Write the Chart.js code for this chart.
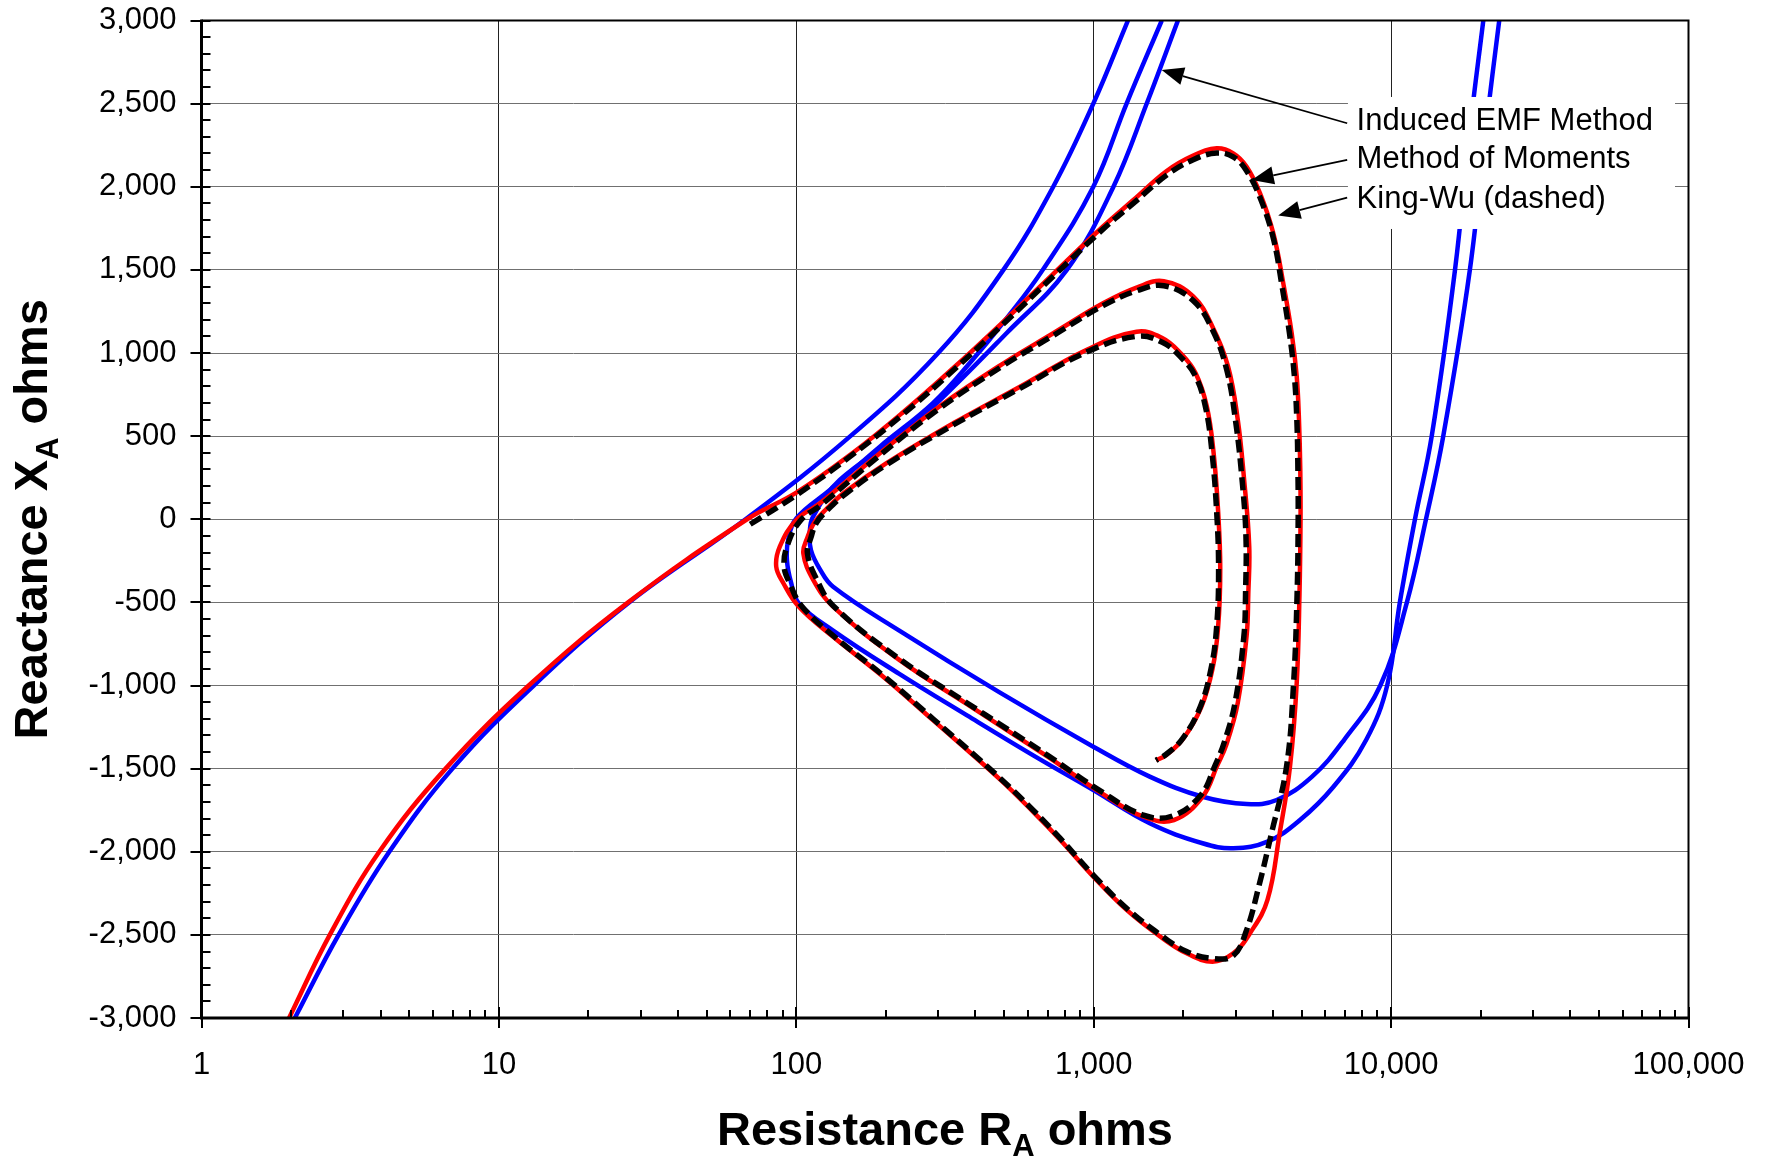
<!DOCTYPE html>
<html><head><meta charset="utf-8">
<script src="https://cdn.jsdelivr.net/npm/chart.js@4/dist/chart.umd.min.js"></script>
<style>html,body{margin:0;padding:0;background:#fff;}canvas{display:block;}</style>
</head><body>
<canvas id="c" width="1765" height="1156"></canvas>
<script>
// ---------- DATA (R ohms, X ohms) ----------
const xMin = 1, xMax = 100000;
const yMin = -3000, yMax = 3000, yStep = 500, yMinorStep = 100;

// Method of Moments (red, one continuous spiral)
const momPoints = [[1.97,-3000],[2.70,-2500],[3.96,-2000],[6.62,-1500],[12.6,-1000],[27.2,-500],[68.3,0],[100,160],[155,400],[228,642],[336,907],[495,1186],[730,1475],[1075,1761],[1359,1920],[1759,2095],[2161,2188],[2593,2231],[2946,2201],[3268,2121],[3625,1961],[4018,1720],[4340,1419],[4632,1119],[4815,860],[4900,600],[4950,300],[4960,0],[4920,-450],[4815,-987],[4571,-1488],[4220,-1889],[3840,-2290],[3354,-2490],[2946,-2611],[2508,-2661],[2053,-2611],[1676,-2511],[1290,-2350],[997,-2150],[772,-1929],[626,-1760],[481,-1560],[288,-1208],[196,-947],[133,-707],[102,-526],[90.5,-385],[85.6,-285],[88,-165],[100,-4],[120,96],[191,397],[302,677],[497,938],[731,1119],[1075,1299],[1400,1395],[1721,1432],[2161,1340],[2508,1158],[2831,918],[3052,597],[3200,250],[3334,-163],[3310,-450],[3268,-700],[3052,-1103],[2800,-1350],[2593,-1488],[2323,-1669],[1862,-1809],[1470,-1789],[1066,-1649],[700,-1428],[481,-1238],[375,-1112],[222,-846],[133,-526],[114,-365],[105.6,-205],[109,-110],[115,-20],[126,60],[145,160],[201,337],[337,577],[565,797],[944,1018],[1394,1128],[1700,1090],[1962,998],[2200,880],[2400,680],[2530,400],[2620,50],[2664,-300],[2620,-650],[2509,-900],[2300,-1130],[2000,-1320],[1750,-1420],[1620,-1450]];

// King-Wu (black dashed)
const kwPoints = [[70,-30],[100,145],[155,390],[228,630],[336,893],[495,1172],[730,1460],[1075,1745],[1359,1900],[1759,2070],[2161,2163],[2593,2203],[2946,2180],[3268,2095],[3625,1935],[4018,1690],[4300,1400],[4560,1110],[4730,860],[4820,600],[4860,300],[4870,0],[4830,-450],[4700,-987],[4450,-1488],[3950,-1898],[3600,-2200],[3268,-2470],[2946,-2625],[2508,-2642],[2053,-2600],[1676,-2500],[1290,-2340],[997,-2140],[772,-1920],[626,-1750],[481,-1552],[288,-1200],[196,-940],[133,-700],[104,-520],[95,-385],[91,-285],[93,-165],[103,-10],[122,90],[191,385],[302,665],[497,925],[731,1105],[1075,1285],[1400,1375],[1721,1405],[2161,1315],[2508,1140],[2800,900],[3000,590],[3150,250],[3250,-100],[3240,-450],[3200,-700],[2990,-1100],[2750,-1340],[2560,-1480],[2290,-1660],[1840,-1785],[1470,-1780],[1066,-1640],[700,-1420],[481,-1230],[375,-1105],[222,-840],[133,-520],[117,-360],[109,-205],[112,-110],[117,-20],[128,60],[147,155],[201,328],[337,567],[565,787],[944,1005],[1394,1100],[1700,1065],[1962,975],[2200,860],[2380,670],[2500,400],[2590,50],[2630,-300],[2590,-650],[2480,-900],[2280,-1130],[1990,-1320],[1750,-1415],[1620,-1450]];

// Induced EMF (blue), three branches
const emfBranch1 = [[2.06,-3000],[2.89,-2500],[4.28,-2000],[6.98,-1500],[13.1,-1000],[27.4,-500],[67.5,0],[152,500],[300,1000],[497,1500],[731,2000],[997,2500],[1304,3000]];
const emfBranch2 = [[1694,3000],[1291,2502],[997,2000],[674,1500],[500,1190],[391,958],[288,699],[191,437],[130,177],[100,5],[94,-120],[93,-245],[96,-380],[102,-506],[133,-670],[222,-930],[375,-1180],[626,-1420],[997,-1629],[1543,-1829],[2323,-1949],[2946,-1979],[3840,-1939],[4940,-1809],[6400,-1609],[8241,-1328],[9700,-1000],[10700,-500],[12030,0],[13700,501],[16400,1500],[18400,2341],[20420,3000]];
const emfBranch3 = [[1920,3000],[1509,2502],[1165,2000],[812,1500],[509,1119],[304,717],[222,500],[140,236],[114,18],[111,-80],[112,-185],[120,-300],[133,-406],[222,-670],[481,-1040],[997,-1368],[1543,-1548],[2323,-1669],[3268,-1713],[4123,-1689],[5423,-1548],[6944,-1328],[9200,-1000],[11300,-500],[13100,0],[14980,501],[18400,1500],[20800,2341],[23100,3000]];

const xTickLabels = ['1','10','100','1,000','10,000','100,000'];
const legendTexts = ['Induced EMF Method','Method of Moments','King-Wu (dashed)'];
const legendTextR = 7656;
const legendBaselineX = [2341, 2113, 1872];
const arrowTails = [[7117,2382],[7117,2161],[7117,1934]];
const arrowTips = [[1693,2702],[3399,2041],[4173,1827]];
const legendBoxR = [7160, 90080];
const legendBoxX = [2540, 1746];
// ------------------------------------------

const FONT = '"Liberation Sans", Arial, sans-serif';
const toXY = arr => arr.map(p => ({x: p[0], y: p[1]}));
const isPow10 = v => Math.abs(Math.log10(v) - Math.round(Math.log10(v))) < 1e-9;
const fmt = v => Math.round(v).toLocaleString('en-US');
const noPad = s => { s.paddingTop = 0; s.paddingBottom = 0; s.paddingLeft = 0; s.paddingRight = 0; };

const decoPlugin = {
  id: 'deco',
  afterDatasetsDraw(chart) {
    const {ctx, chartArea: a, scales: {x, y}} = chart;
    ctx.save();
    // legend box
    const bx0 = x.getPixelForValue(legendBoxR[0]), bx1 = x.getPixelForValue(legendBoxR[1]);
    const by0 = y.getPixelForValue(legendBoxX[0]), by1 = y.getPixelForValue(legendBoxX[1]);
    ctx.fillStyle = '#fff';
    ctx.fillRect(bx0, by0, bx1 - bx0, by1 - by0);
    ctx.fillStyle = '#000';
    ctx.font = `31px ${FONT}`;
    ctx.textAlign = 'left'; ctx.textBaseline = 'alphabetic';
    const tx = x.getPixelForValue(legendTextR);
    legendTexts.forEach((t, i) => ctx.fillText(t, tx, y.getPixelForValue(legendBaselineX[i])));
    // arrows
    ctx.strokeStyle = '#000'; ctx.lineWidth = 1.8;
    arrowTips.forEach((tip, i) => {
      const x1 = x.getPixelForValue(arrowTails[i][0]), y1 = y.getPixelForValue(arrowTails[i][1]);
      const x2 = x.getPixelForValue(tip[0]), y2 = y.getPixelForValue(tip[1]);
      const ang = Math.atan2(y2 - y1, x2 - x1);
      const L = 22, W = 9;
      const bxp = x2 - L * Math.cos(ang), byp = y2 - L * Math.sin(ang);
      ctx.beginPath(); ctx.moveTo(x1, y1); ctx.lineTo(bxp, byp); ctx.stroke();
      ctx.beginPath();
      ctx.moveTo(x2, y2);
      ctx.lineTo(bxp + W * Math.sin(ang), byp - W * Math.cos(ang));
      ctx.lineTo(bxp - W * Math.sin(ang), byp + W * Math.cos(ang));
      ctx.closePath(); ctx.fill();
    });
    // frame
    ctx.strokeStyle = '#000';
    ctx.lineWidth = 2;
    ctx.beginPath(); ctx.moveTo(a.left, a.top); ctx.lineTo(a.right, a.top); ctx.lineTo(a.right, a.bottom); ctx.stroke();
    ctx.lineWidth = 3;
    ctx.beginPath(); ctx.moveTo(a.left, a.top - 1); ctx.lineTo(a.left, a.bottom); ctx.lineTo(a.right + 1, a.bottom); ctx.stroke();
    // y ticks
    ctx.lineWidth = 2;
    for (let v = yMin; v <= yMax; v += yMinorStep) {
      const p = Math.round(y.getPixelForValue(v));
      const major = v % yStep === 0;
      ctx.beginPath(); ctx.moveTo(major ? a.left - 11 : a.left, p); ctx.lineTo(a.left + 9, p); ctx.stroke();
    }
    // x ticks
    for (let d = xMin; d <= xMax; d *= 10) {
      for (let m = 1; m <= 9; m++) {
        const v = d * m; if (v > xMax) break;
        const p = Math.round(x.getPixelForValue(v));
        ctx.beginPath();
        if (m === 1) { ctx.moveTo(p, a.bottom + 10); ctx.lineTo(p, a.bottom - 11); }
        else { ctx.moveTo(p, a.bottom); ctx.lineTo(p, a.bottom - 8); }
        ctx.stroke();
      }
    }
    ctx.restore();
  },
  afterDraw(chart) {
    const {ctx, chartArea: a} = chart;
    const drawTitle = (main, sub, tail) => {
      const size = 47, subSize = 31;
      ctx.font = `bold ${size}px ${FONT}`;
      const w1 = ctx.measureText(main).width, w3 = ctx.measureText(tail).width;
      ctx.font = `bold ${subSize}px ${FONT}`;
      const w2 = ctx.measureText(sub).width;
      const x0 = -(w1 + w2 + w3) / 2;
      ctx.fillStyle = '#000'; ctx.textAlign = 'left'; ctx.textBaseline = 'alphabetic';
      ctx.font = `bold ${size}px ${FONT}`; ctx.fillText(main, x0, 0);
      ctx.font = `bold ${subSize}px ${FONT}`; ctx.fillText(sub, x0 + w1, 11);
      ctx.font = `bold ${size}px ${FONT}`; ctx.fillText(tail, x0 + w1 + w2, 0);
    };
    ctx.save();
    ctx.translate((a.left + a.right) / 2, 1145);
    drawTitle('Resistance R', 'A', ' ohms');
    ctx.restore();
    ctx.save();
    ctx.translate(47, (a.top + a.bottom) / 2);
    ctx.rotate(-Math.PI / 2);
    drawTitle('Reactance X', 'A', ' ohms');
    ctx.restore();
  }
};

const common = {showLine: true, pointRadius: 0, pointHoverRadius: 0, fill: false, tension: 0.4};

new Chart(document.getElementById('c'), {
  type: 'scatter',
  data: {
    datasets: [
      {...common, label: 'King-Wu (dashed)', data: toXY(kwPoints), borderColor: '#000', borderWidth: 5.5, borderDash: [13, 6]},
      {...common, label: 'Method of Moments', data: toXY(momPoints), borderColor: '#ff0000', borderWidth: 4.5},
      {...common, label: 'Induced EMF Method', data: toXY(emfBranch1), borderColor: '#0000ff', borderWidth: 4.5},
      {...common, label: 'Induced EMF Method 2', data: toXY(emfBranch2), borderColor: '#0000ff', borderWidth: 4.5},
      {...common, label: 'Induced EMF Method 3', data: toXY(emfBranch3), borderColor: '#0000ff', borderWidth: 4.5}
    ]
  },
  options: {
    responsive: false, animation: false, devicePixelRatio: 1,
    layout: {padding: {left: 0, top: 20.5, right: 76.5, bottom: 0}},
    plugins: {legend: {display: false}, tooltip: {enabled: false}},
    scales: {
      x: {
        type: 'logarithmic', min: xMin, max: xMax, position: 'bottom',
        afterFit: s => { s.height = 138; noPad(s); },
        border: {display: false},
        grid: {drawTicks: false, lineWidth: 1, color: c => (c.tick && isPow10(c.tick.value)) ? '#222' : 'rgba(0,0,0,0)'},
        ticks: {autoSkip: false, maxRotation: 0, minRotation: 0, padding: 29, color: '#000',
          font: {family: FONT, size: 31},
          callback: v => isPow10(v) ? xTickLabels[Math.round(Math.log10(v))] : ''}
      },
      y: {
        type: 'linear', min: yMin, max: yMax,
        afterFit: s => { s.width = 201.5; noPad(s); },
        border: {display: false},
        grid: {drawTicks: false, lineWidth: 1, color: '#707070'},
        ticks: {stepSize: yStep, padding: 25, color: '#000', font: {family: FONT, size: 31},
          callback: v => fmt(v)}
      }
    }
  },
  plugins: [decoPlugin]
});
</script>
</body></html>
